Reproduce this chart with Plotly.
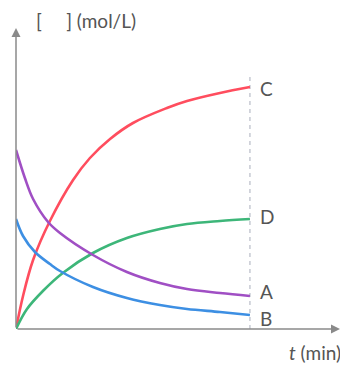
import plotly.graph_objects as go

# time values (min) and concentrations (arbitrary units)
t_C = [0, 0.3, 0.73, 1.45, 2.44, 3.16, 4.02, 5.0, 6.45, 7.31, 8.72, 10]
C = [0, 33, 69, 108, 149, 171, 190, 206, 221, 228, 236, 242]

t_D = [0, 0.47, 1.15, 2.0, 3.29, 4.74, 6.15, 7.31, 8.72, 10]
D = [0, 20, 38, 56, 76, 91, 100, 105, 108, 110]

t_A = [0, 0.38, 0.73, 1.37, 1.88, 3.29, 4.74, 6.15, 7.31, 8.72, 10]
A = [179, 151, 130, 107, 96, 74, 57, 46, 40, 36, 33]

t_B = [0, 0.3, 0.81, 1.45, 1.88, 3.29, 4.74, 6.15, 7.31, 8.72, 10]
B = [110, 93, 77, 65, 58, 42, 31, 24, 20, 17, 14]

series_names = ["C", "D", "A", "B"]
x_end = 10
x_max = 13.85
y_max = 301
dash_top = 254

# the page body has an 8px margin, so the figure is drawn 8px smaller and offset
OFF = 8
W, H = 348 - OFF, 368 - OFF
ML, MR, MT, MB = 16 - OFF, 8, 28 - OFF, 39

FONT = "Lato, Open Sans, sans-serif"
TXT = "#555555"

fig = go.Figure()
colors = {"C": "#ff4d5e", "D": "#3db679", "A": "#a04fc4", "B": "#3d8fe3"}
data = {"C": (t_C, C), "D": (t_D, D), "A": (t_A, A), "B": (t_B, B)}

fig.add_trace(go.Scatter(x=[x_end, x_end], y=[0, dash_top], mode="lines",
                         line=dict(color="#b8bcc8", width=1.2, dash="4px,4px"),
                         hoverinfo="skip", showlegend=False))

for name in series_names:
    xs, ys = data[name]
    fig.add_trace(go.Scatter(x=xs, y=ys, mode="lines",
                             line=dict(color=colors[name], width=2.6, shape="spline", smoothing=1.0),
                             showlegend=False, name=name))

label_y = {"C": 241, "D": 113, "A": 38, "B": 11}
for name in series_names:
    fig.add_annotation(x=x_end, y=label_y[name], text=name, xref="x", yref="y",
                       xanchor="left", yanchor="middle", xshift=8, showarrow=False,
                       font=dict(family=FONT, size=19, color=TXT))

# axes with arrows
fig.add_annotation(x=x_max, y=0, ax=0, ay=0, xref="x", yref="y", axref="x", ayref="y",
                   text="", showarrow=True, arrowhead=2, arrowsize=1.2, arrowwidth=1.5,
                   arrowcolor="#8a8a8a")
fig.add_annotation(x=0, y=y_max, ax=0, ay=0, xref="x", yref="y", axref="x", ayref="y",
                   text="", showarrow=True, arrowhead=2, arrowsize=1.2, arrowwidth=1.5,
                   arrowcolor="#8a8a8a")

pw = W - ML - MR
ph = H - MT - MB


def px_to_paper(px, py):
    # px, py are page pixels in the reference
    fx, fy = px - OFF, py - OFF
    return (fx - ML) / pw, (H - MB - fy) / ph


ux, uy = px_to_paper(34, 20)
fig.add_annotation(x=ux, y=uy, xref="paper", yref="paper", text="[     ] (mol/L)",
                   showarrow=False, xanchor="left", yanchor="middle",
                   font=dict(family=FONT, size=19, color=TXT))
tx, ty = px_to_paper(343, 352)
fig.add_annotation(x=tx, y=ty, xref="paper", yref="paper", text="<i>t</i> (min)",
                   showarrow=False, xanchor="right", yanchor="middle",
                   font=dict(family=FONT, size=19, color=TXT))

fig.update_layout(
    width=W, height=H,
    margin=dict(l=ML, r=MR, t=MT, b=MB, autoexpand=False),
    paper_bgcolor="white", plot_bgcolor="white",
    xaxis=dict(range=[0, x_max], visible=False, fixedrange=True),
    yaxis=dict(range=[0, y_max], visible=False, fixedrange=True),
)

fig.write_html("out.html")
